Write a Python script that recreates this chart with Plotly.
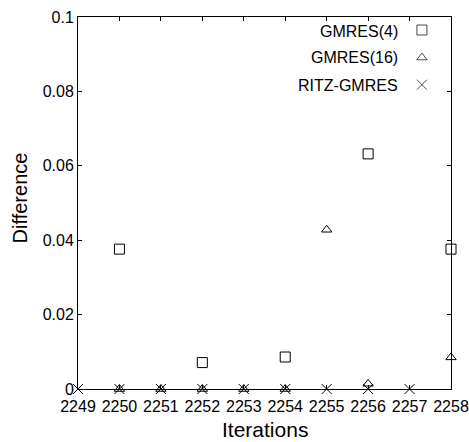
import plotly.graph_objects as go

# Iteration numbers on the horizontal axis
iterations = [2249, 2250, 2251, 2252, 2253, 2254, 2255, 2256, 2257, 2258]

# GMRES(4): iterations where a difference was recorded
gmres4_iter = [2250, 2252, 2254, 2256, 2258]
gmres4_diff = [0.0376, 0.0071, 0.0086, 0.0632, 0.0376]

# GMRES(16)
gmres16_iter = [2250, 2251, 2252, 2253, 2254, 2255, 2256, 2258]
gmres16_diff = [0.0, 0.0, 0.0, 0.0, 0.0, 0.0428, 0.0014, 0.0085]

# RITZ-GMRES
ritz_iter = [2249, 2250, 2251, 2252, 2253, 2254, 2255, 2256, 2257]
ritz_diff = [0.0, 0.0, 0.0, 0.0, 0.0, 0.0, 0.0, 0.0, 0.0]

y_ticks = [0, 0.02, 0.04, 0.06, 0.08, 0.1]
y_tick_text = ["0", "0.02", "0.04", "0.06", "0.08", "0.1"]

series_names = ["GMRES(4)", "GMRES(16)", "RITZ-GMRES"]
symbols = ["square-open", "triangle-up-open", "x-thin-open"]
sizes = [10, 9, 10]

FONT = "Liberation Sans, Arial, Helvetica, sans-serif"

fig = go.Figure()

for name, xs, ys, sym, sz in zip(
    series_names,
    [gmres4_iter, gmres16_iter, ritz_iter],
    [gmres4_diff, gmres16_diff, ritz_diff],
    symbols,
    sizes,
):
    fig.add_trace(go.Scatter(
        x=xs, y=ys, mode="markers", name=name, showlegend=False,
        cliponaxis=False,
        marker=dict(symbol=sym, size=sz, color="black",
                    line=dict(color="black", width=1)),
    ))

# Key drawn inside the top-right corner: label text followed by its symbol
key_y = [0.965, 0.891, 0.818]
fig.add_trace(go.Scatter(
    x=[0.922] * 3, y=key_y, mode="markers", showlegend=False,
    xaxis="x2", yaxis="y2", hoverinfo="skip", cliponaxis=False,
    marker=dict(symbol=symbols, size=sizes, color="black",
                line=dict(color="black", width=1)),
))
for name, ky in zip(series_names, [0.961, 0.891, 0.815]):
    fig.add_annotation(
        x=0.862, y=ky, xref="x2", yref="y2", text=name, showarrow=False,
        xanchor="right", yanchor="middle",
        font=dict(family=FONT, size=16, color="black"),
    )

# Axis titles
fig.add_annotation(
    x=0.5, y=-0.110, xref="paper", yref="paper", text="Iterations",
    showarrow=False, xanchor="center", yanchor="middle",
    font=dict(family=FONT, size=21, color="black"),
)
fig.add_annotation(
    x=-0.1555, y=0.515, xref="paper", yref="paper", text="Difference",
    showarrow=False, xanchor="center", yanchor="middle", textangle=-90,
    font=dict(family=FONT, size=20, color="black"),
)

axis_common = dict(
    showgrid=False, zeroline=False, showline=True, linecolor="black",
    linewidth=1, mirror="ticks", ticks="inside", ticklen=4,
    tickcolor="black", tickwidth=1, automargin=False,
    tickfont=dict(family=FONT, size=16, color="black"),
)

fig.update_layout(
    width=469, height=442,
    margin=dict(l=78, r=18, t=17, b=53),
    paper_bgcolor="white", plot_bgcolor="white",
    xaxis=dict(range=[2249, 2258], tickvals=iterations,
               ticktext=[str(v) for v in iterations],
               ticklabelstandoff=3, **axis_common),
    yaxis=dict(range=[0, 0.1], tickvals=y_ticks, ticktext=y_tick_text,
               **axis_common),
    xaxis2=dict(range=[0, 1], overlaying="x", visible=False),
    yaxis2=dict(range=[0, 1], overlaying="y", visible=False),
    font=dict(family=FONT, color="black"),
)

fig.write_html("out.html")
